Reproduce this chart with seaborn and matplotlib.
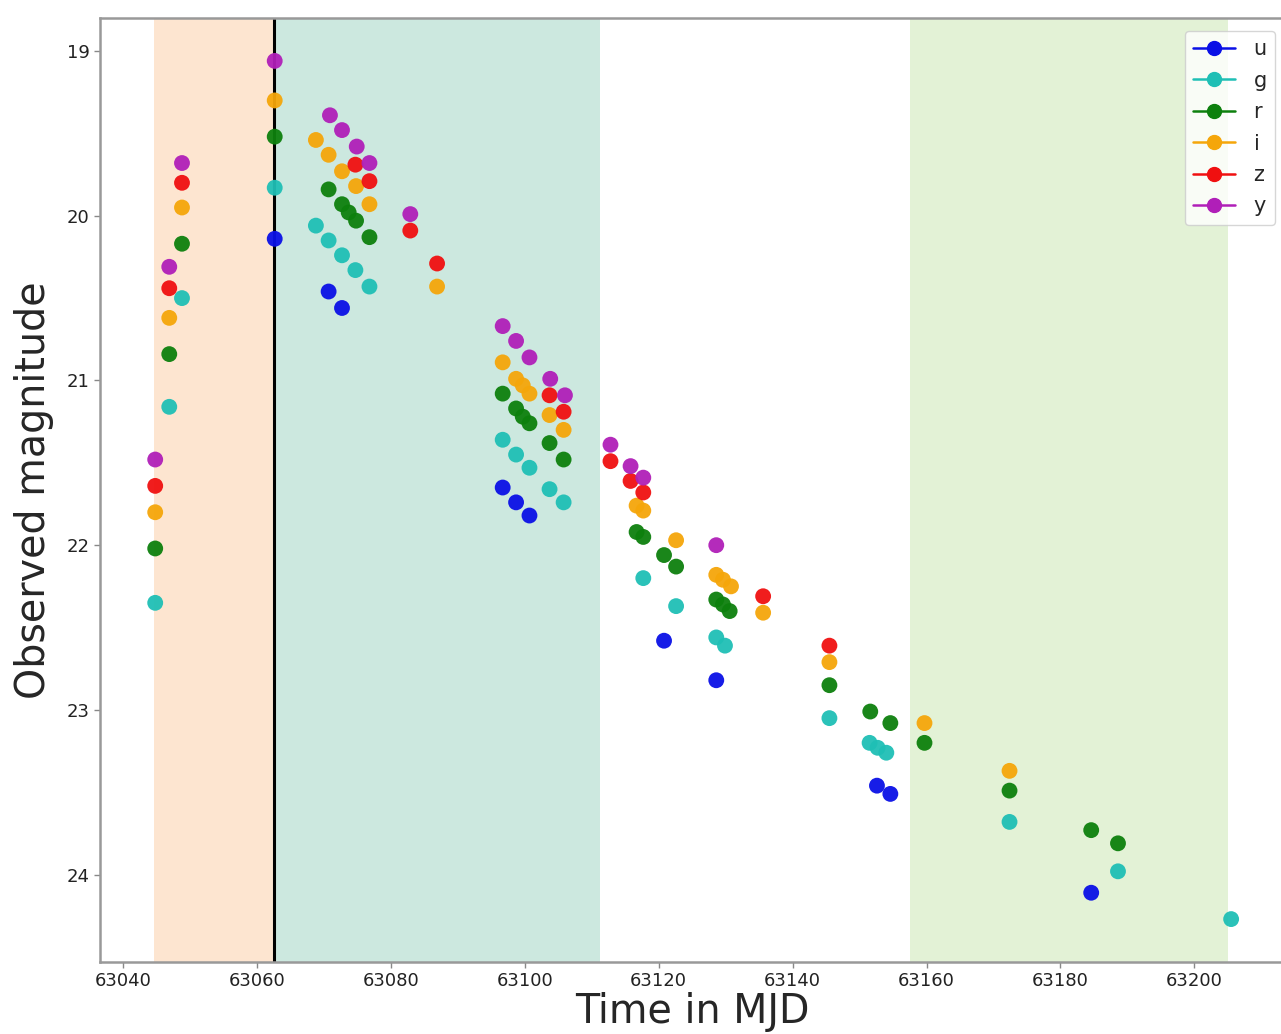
import numpy as np
import pandas as pd
import matplotlib
matplotlib.use("Agg")
import matplotlib.pyplot as plt
from matplotlib.lines import Line2D
import seaborn as sns

bands = ["u", "g", "r", "i", "z", "y"]
band_colors = ["#0a10e6", "#1fbfb5", "#0d800d", "#f5a60a", "#f01010", "#b01fb8"]

u_t = [63062.65, 63070.7, 63072.7, 63096.7, 63098.7, 63100.7, 63120.8, 63128.6, 63152.6, 63154.6, 63184.6]
u_m = [20.14, 20.46, 20.56, 21.65, 21.74, 21.82, 22.58, 22.82, 23.46, 23.51, 24.11]

g_t = [63044.8, 63046.9, 63048.8, 63062.65, 63068.8, 63070.7, 63072.7, 63074.7, 63076.8, 63096.7,
       63098.7, 63100.7, 63103.7, 63105.8, 63117.7, 63122.6, 63128.6, 63129.9, 63145.5, 63151.5,
       63152.7, 63154.0, 63172.4, 63188.6, 63205.5]
g_m = [22.35, 21.16, 20.50, 19.83, 20.06, 20.15, 20.24, 20.33, 20.43, 21.36,
       21.45, 21.53, 21.66, 21.74, 22.20, 22.37, 22.56, 22.61, 23.05, 23.20,
       23.23, 23.26, 23.68, 23.98, 24.27]

r_t = [63044.8, 63046.9, 63048.8, 63062.65, 63070.7, 63072.7, 63073.7, 63074.8, 63076.8, 63096.7,
       63098.7, 63099.7, 63100.7, 63103.7, 63105.8, 63116.7, 63117.7, 63120.8, 63122.6, 63128.6,
       63129.6, 63130.6, 63145.5, 63151.6, 63154.6, 63159.7, 63172.4, 63184.6, 63188.6]
r_m = [22.02, 20.84, 20.17, 19.52, 19.84, 19.93, 19.98, 20.03, 20.13, 21.08,
       21.17, 21.22, 21.26, 21.38, 21.48, 21.92, 21.95, 22.06, 22.13, 22.33,
       22.36, 22.40, 22.85, 23.01, 23.08, 23.20, 23.49, 23.73, 23.81]

i_t = [63044.8, 63046.9, 63048.8, 63062.65, 63068.8, 63070.7, 63072.7, 63074.8, 63076.8, 63086.9,
       63096.7, 63098.7, 63099.7, 63100.7, 63103.7, 63105.8, 63116.7, 63117.7, 63122.6, 63128.6,
       63129.6, 63130.8, 63135.6, 63145.5, 63159.7, 63172.4]
i_m = [21.80, 20.62, 19.95, 19.30, 19.54, 19.63, 19.73, 19.82, 19.93, 20.43,
       20.89, 20.99, 21.03, 21.08, 21.21, 21.30, 21.76, 21.79, 21.97, 22.18,
       22.21, 22.25, 22.41, 22.71, 23.08, 23.37]

z_t = [63044.8, 63046.9, 63048.8, 63074.7, 63076.8, 63082.9, 63086.9, 63103.7, 63105.8, 63112.8,
       63115.8, 63117.7, 63135.6, 63145.5]
z_m = [21.64, 20.44, 19.80, 19.69, 19.79, 20.09, 20.29, 21.09, 21.19, 21.49,
       21.61, 21.68, 22.31, 22.61]

y_t = [63044.8, 63046.9, 63048.8, 63062.65, 63070.9, 63072.7, 63074.9, 63076.8, 63082.9, 63096.7,
       63098.7, 63100.7, 63103.8, 63106.0, 63112.8, 63115.8, 63117.7, 63128.6]
y_m = [21.48, 20.31, 19.68, 19.06, 19.39, 19.48, 19.58, 19.68, 19.99, 20.67,
       20.76, 20.86, 20.99, 21.09, 21.39, 21.52, 21.59, 22.00]

spans = [(63044.6, 63062.5, "#fde5d0"), (63062.5, 63111.2, "#cce8df"), (63157.6, 63205.1, "#e3f2d6")]
vline_t = 63062.5

times = [u_t, g_t, r_t, i_t, z_t, y_t]
mags = [u_m, g_m, r_m, i_m, z_m, y_m]
df = pd.concat([pd.DataFrame({"t": t, "mag": m, "band": b}) for b, t, m in zip(bands, times, mags)],
               ignore_index=True)

sns.set_style("white")
plt.rcParams["font.family"] = ["DejaVu Sans"]

fig = plt.figure(figsize=(12.81, 10.34), dpi=100)
ax = fig.add_axes([100 / 1281, 1 - 962 / 1034, 1185 / 1281, (962 - 18) / 1034])

for x0, x1, c in spans:
    ax.axvspan(x0, x1, color=c, lw=0, zorder=0)
ax.axvline(vline_t, color="black", lw=2.2, zorder=1)

sns.scatterplot(data=df, x="t", y="mag", hue="band", hue_order=bands,
                palette=dict(zip(bands, band_colors)), s=130, edgecolor="none",
                alpha=0.95, legend=False, ax=ax, zorder=3)

ax.invert_yaxis()
ax.margins(x=0.05, y=0.05)
ax.set_xticks(np.arange(63040, 63201, 20))
ax.set_yticks([19, 20, 21, 22, 23, 24])
ax.tick_params(axis="both", labelsize=13, length=4, width=1, color="#888888", labelcolor="#222222",
               bottom=True, left=True)
for s in ax.spines.values():
    s.set_color("#999999")
    s.set_linewidth(1.8)

ax.set_xlabel("Time in MJD", fontsize=28.5, labelpad=1)
ax.set_ylabel("Observed magnitude", fontsize=28.5, labelpad=9)

handles = [Line2D([0], [0], color=c, marker="o", markersize=10, lw=1.8, label=b)
           for b, c in zip(bands, band_colors)]
leg = ax.legend(handles=handles, loc="upper right", fontsize=15, frameon=True,
                bbox_to_anchor=(0.997, 0.993), borderaxespad=0.3, handlelength=2.0,
                labelspacing=0.55, handletextpad=0.9)
leg.get_frame().set_alpha(0.8)

fig.savefig("out.png", dpi=100)
